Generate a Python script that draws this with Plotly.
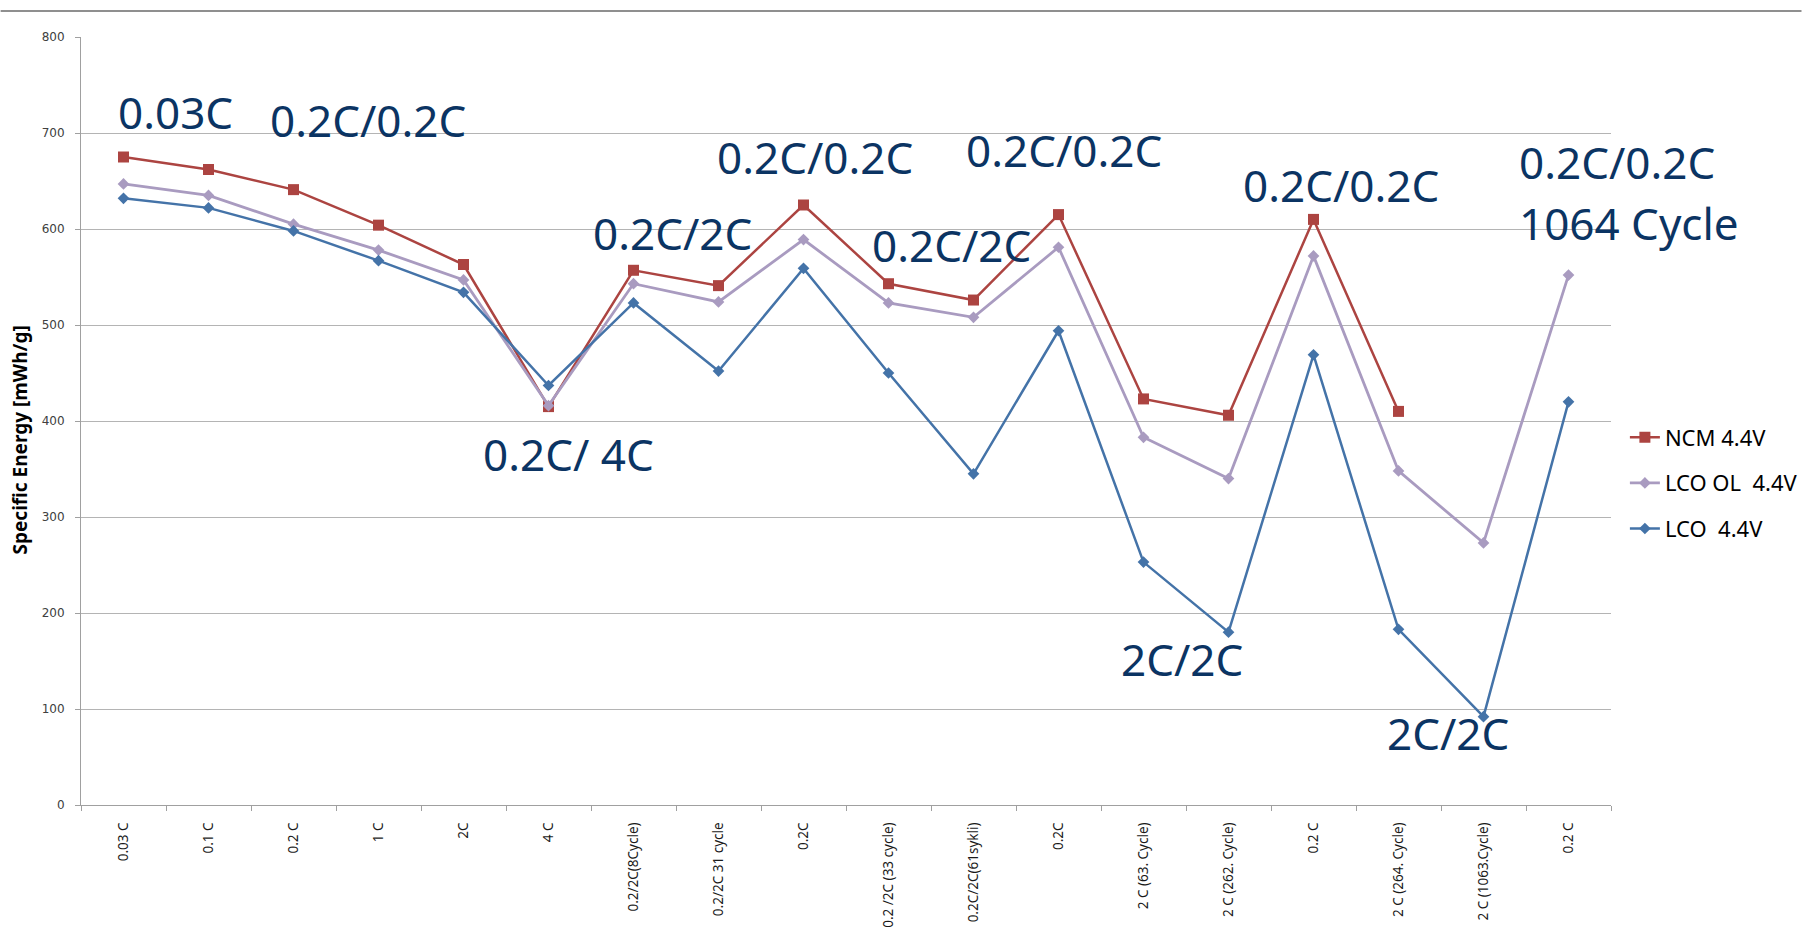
import plotly.graph_objects as go

# Test steps along the x axis
categories = [
    "0.03 C", "0.1 C", "0.2 C", "1 C", "2C", "4 C",
    "0.2/2C(8Cycle)", "0.2/2C 31 cycle", "0.2C", "0.2 /2C (33 cycle)",
    "0.2C/2C(61sykli)", "0.2C", "2 C (63. Cycle)", "2 C (262. Cycle)",
    "0.2 C", "2 C (264. Cycle)", "2 C (1063.Cycle)", "0.2 C",
]

# Specific energy in mWh/g
ncm_44 = [675, 662, 641, 604, 563, 415, 557, 541, 625, 543, 526, 615, 423, 406, 610, 410, None, None]
lco_ol_44 = [647, 635, 605, 578, 547, 416, 543, 524, 589, 523, 508, 581, 383, 340, 572, 348, 273, 552]
lco_44 = [632, 622, 598, 567, 534, 437, 523, 452, 559, 450, 345, 494, 253, 180, 469, 183, 92, 420]

series_names = ["NCM 4.4V", "LCO OL\u00a0 4.4V", "LCO\u00a0 4.4V"]

# Protocol callouts: (text, x position in category units, y value, anchor)
callouts = [
    ("0.03C", 0.61, 722, "center"),
    ("0.2C/0.2C", 2.88, 714, "center"),
    ("0.2C/ 4C", 5.23, 366, "center"),
    ("0.2C/2C", 6.46, 596, "center"),
    ("0.2C/0.2C", 8.14, 675, "center"),
    ("0.2C/2C", 9.74, 583, "center"),
    ("0.2C/0.2C", 11.07, 682, "center"),
    ("2C/2C", 12.45, 152, "center"),
    ("0.2C/0.2C", 14.32, 646, "center"),
    ("2C/2C", 15.58, 75, "center"),
    ("0.2C/0.2C", 16.39, 670, "left"),
    ("1064 Cycle", 16.39, 606, "left"),
]

x_idx = list(range(len(categories)))
bounds = [i - 0.5 for i in range(len(categories) + 1)]

fig = go.Figure()

styles = [
    (ncm_44, "#AC4441", "square", 11, 2.5),
    (lco_ol_44, "#A99BC0", "diamond", 9, 2.8),
    (lco_44, "#4473A8", "diamond", 9, 2.5),
]

for name, (vals, color, sym, msize, lw) in zip(series_names, styles):
    fig.add_trace(go.Scatter(
        x=x_idx, y=vals, name=name, mode="lines+markers",
        legendgroup=name,
        line=dict(color=color, width=lw),
        marker=dict(symbol=sym, size=msize, color=color),
    ))

# Overlay axis carrying tick marks on the category boundaries
fig.add_trace(go.Scatter(x=[], y=[], xaxis="x2", showlegend=False, hoverinfo="skip"))

for text, xv, yv, anchor in callouts:
    fig.add_annotation(
        x=xv, y=yv, xref="x", yref="y", text=text, showarrow=False,
        xanchor=anchor, yanchor="middle",
        font=dict(family="Noto Sans", size=44, color="#0B3463"),
    )

PLOT_W = 1815 - 81 - 192

# Y-axis title
fig.add_annotation(
    xref="paper", yref="paper", x=-61 / PLOT_W, y=(805 - 440) / 768,
    text="<b>Specific Energy [mWh/g]</b>", textangle=-90, showarrow=False,
    xanchor="center", yanchor="middle",
    font=dict(family="Noto Sans", size=19, color="#000000"),
)

# Horizontal rule across the top of the page
fig.add_shape(
    type="line", xref="paper", yref="paper",
    x0=-81 / PLOT_W, x1=(1815 - 81) / PLOT_W, y0=794 / 768, y1=794 / 768,
    line=dict(color="#8f8f8f", width=2),
)

fig.update_layout(
    width=1815, height=928,
    margin=dict(l=81, r=192, t=37, b=123),
    paper_bgcolor="white", plot_bgcolor="white",
    showlegend=True,
    legend=dict(
        x=(1637 - 81) / PLOT_W, xanchor="left", y=(805 - 483) / 768, yanchor="middle",
        font=dict(family="Noto Sans", size=22, color="#000000"),
        tracegroupgap=14, bgcolor="rgba(0,0,0,0)",
    ),
    xaxis=dict(
        range=[-0.5, len(categories) - 0.5],
        tickmode="array", tickvals=x_idx, ticktext=categories,
        tickangle=-90, ticks="", ticklabelstandoff=11,
        tickfont=dict(family="Noto Sans", size=13.5, color="#1a1a1a"),
        showline=True, linecolor="#a0a0a0", linewidth=1,
        showgrid=False, zeroline=False, automargin=False,
    ),
    xaxis2=dict(
        overlaying="x", anchor="y", side="bottom",
        range=[-0.5, len(categories) - 0.5],
        tickmode="array", tickvals=bounds, ticktext=[""] * len(bounds),
        ticks="outside", ticklen=5, tickcolor="#a0a0a0", tickwidth=1,
        showticklabels=False, showline=False, showgrid=False, zeroline=False,
        automargin=False,
    ),
    yaxis=dict(
        range=[0, 800], tickmode="linear", tick0=0, dtick=100,
        ticks="outside", ticklen=5, tickcolor="#a0a0a0", ticklabelstandoff=8,
        tickfont=dict(family="DejaVu Sans", size=12, color="#404040"),
        showline=True, linecolor="#a0a0a0", linewidth=1,
        showgrid=True, gridcolor="#b4b4b4", gridwidth=1, zeroline=False,
        automargin=False,
    ),
)

fig.write_html("out.html")
